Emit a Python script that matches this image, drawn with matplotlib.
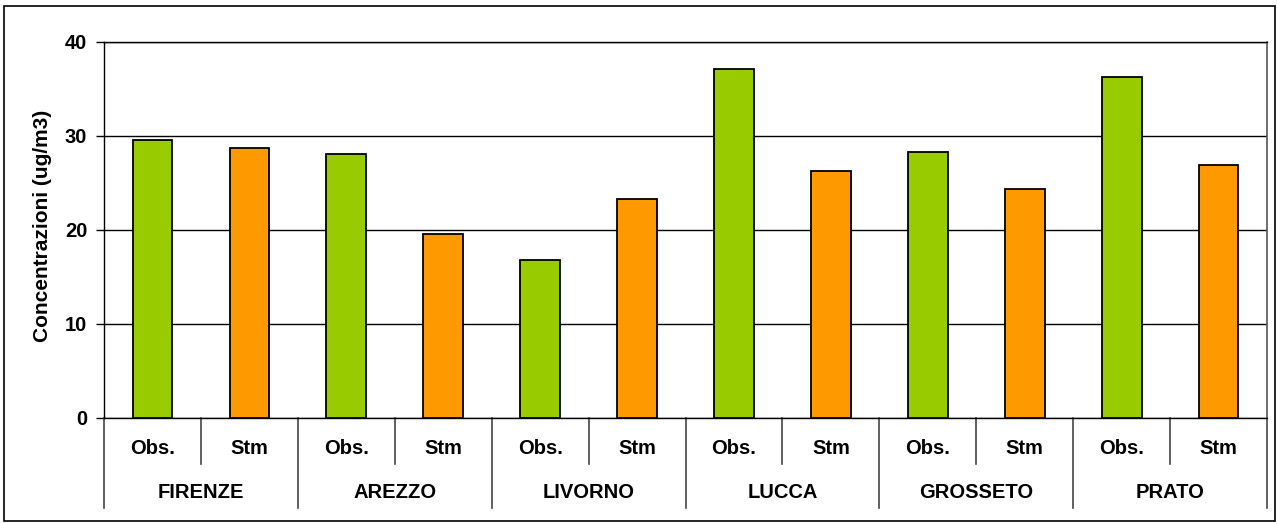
import matplotlib.pyplot as plt
from matplotlib.patches import Rectangle
import matplotlib.transforms as mtransforms

plt.rcParams['font.family'] = ['Liberation Sans', 'DejaVu Sans']
plt.rcParams['font.weight'] = 'bold'

cities = ['FIRENZE', 'AREZZO', 'LIVORNO', 'LUCCA', 'GROSSETO', 'PRATO']
kinds = ['Obs.', 'Stm']
obs = [29.5, 28.0, 16.8, 37.1, 28.3, 36.2]
stm = [28.7, 19.6, 23.3, 26.2, 24.3, 26.9]

values = []
colors = []
for o, s in zip(obs, stm):
    values += [o, s]
    colors += ['#99CC00', '#FF9900']

fig = plt.figure(figsize=(12.78, 5.24), dpi=100)
ax = fig.add_axes([0.0814, 0.2023, 0.91, 0.7185])

x = list(range(len(values)))
ax.bar(x, values, width=0.41, color=colors, edgecolor='black', linewidth=1.3, zorder=3)

ax.set_xlim(-0.5, len(values) - 0.5)
ax.set_ylim(0, 40)
ax.set_yticks([0, 10, 20, 30, 40])
ax.tick_params(axis='y', direction='out', length=6, width=1, labelsize=14.5, pad=6)
ax.set_xticks([])
ax.grid(axis='y', color='black', linewidth=1, zorder=0)

for side in ['left', 'bottom', 'top']:
    ax.spines[side].set_color('black')
    ax.spines[side].set_linewidth(1)
ax.spines['right'].set_color('#555555')
ax.spines['right'].set_linewidth(1.2)

ax.set_ylabel('Concentrazioni (ug/m3)', fontsize=15, fontweight='bold')
ax.yaxis.set_label_coords(-0.045, 0.51)

# two-level category axis
trans = mtransforms.blended_transform_factory(ax.transData, ax.transAxes)
for i in range(len(values) + 1):
    xb = i - 0.5
    low = -0.239 if i % 2 == 0 else -0.122
    ax.plot([xb, xb], [0, low], color='#444444', linewidth=1.2,
            transform=trans, clip_on=False)
for i in range(len(values)):
    ax.text(i, -0.082, kinds[i % 2], transform=trans, ha='center', va='center',
            fontsize=14.5, fontweight='bold')
for j, c in enumerate(cities):
    ax.text(2 * j + 0.5, -0.199, c, transform=trans, ha='center', va='center',
            fontsize=14.5, fontweight='bold')

# chart frame
fig.patches.append(Rectangle((0.0035, 0.006), 0.9945, 0.982, transform=fig.transFigure,
                             fill=False, edgecolor='black', linewidth=1.2))

fig.savefig('out.png', dpi=100)
